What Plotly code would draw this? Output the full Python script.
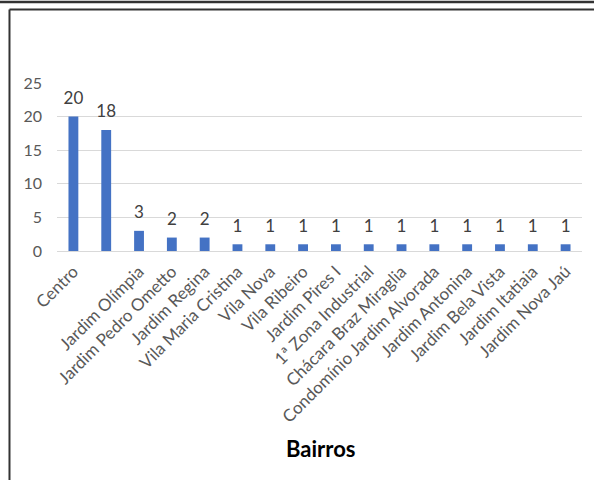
"""Bar chart: occurrences per neighbourhood (Bairros)."""

import plotly.graph_objects as go

# The second bar has no category label in the source chart
categorias = [
    "Centro",
    "",
    "Jardim Olímpia",
    "Jardim Pedro Ometto",
    "Jardim Regina",
    "Vila Maria Cristina",
    "Vila Nova",
    "Vila Ribeiro",
    "Jardim Pires I",
    "1ª Zona Industrial",
    "Chácara Braz Miraglia",
    "Condomínio Jardim Alvorada",
    "Jardim Antonina",
    "Jardim Bela Vista",
    "Jardim Itatiaia",
    "Jardim Nova Jaú",
]
valores = [20, 18, 3, 2, 2, 1, 1, 1, 1, 1, 1, 1, 1, 1, 1, 1]
y_ticks = [0, 5, 10, 15, 20, 25]
eixo_x_titulo = "Bairros"

FONT = "Lato, Carlito, 'Open Sans', sans-serif"
BAR_COLOR = "#4472C4"
GRID_COLOR = "#D9D9D9"
TEXT_GRAY = "#595959"
FRAME_COLOR = "#333333"

posicoes = list(range(len(valores)))

fig = go.Figure()

fig.add_trace(
    go.Bar(
        x=posicoes,
        y=valores,
        marker_color=BAR_COLOR,
        marker_line_width=0,
        width=0.3,
        customdata=categorias,
        hovertemplate="<b>%{customdata}</b><br>%{y}<extra></extra>",
    )
)

# Data labels: transparent markers push the text a bit above each bar
fig.add_trace(
    go.Scatter(
        x=posicoes,
        y=valores,
        mode="markers+text",
        marker={"size": 12, "color": "rgba(0,0,0,0)"},
        text=[str(v) for v in valores],
        textposition="top center",
        textfont={"size": 17, "color": "#404040", "family": FONT},
        cliponaxis=False,
        hoverinfo="skip",
    )
)

# Frame lines around the chart (as in the source image)
frame = {"xref": "paper", "yref": "paper", "type": "line"}
fig.add_shape(x0=-0.2, x1=1.1, y0=1.482, y1=1.482,
              line={"color": FRAME_COLOR, "width": 2.5}, **frame)
fig.add_shape(x0=-0.0905, x1=1.1, y0=1.4375, y1=1.4375,
              line={"color": FRAME_COLOR, "width": 2}, **frame)
fig.add_shape(x0=-0.0905, x1=-0.0905, y0=1.4375, y1=-1.5,
              line={"color": FRAME_COLOR, "width": 2}, **frame)

fig.add_annotation(
    x=0.501,
    y=-1.173,
    xref="paper",
    yref="paper",
    yanchor="middle",
    text=f"<b>{eixo_x_titulo}</b>",
    showarrow=False,
    font={"size": 22, "color": "#000000", "family": FONT},
)

fig.update_layout(
    width=594,
    height=480,
    margin={"l": 57, "r": 12, "t": 83, "b": 229},
    paper_bgcolor="white",
    plot_bgcolor="white",
    showlegend=False,
    font={"family": FONT, "color": TEXT_GRAY},
    xaxis={
        "tickmode": "array",
        "tickvals": posicoes,
        "ticktext": categorias,
        "tickangle": -45,
        "tickfont": {"size": 17, "color": TEXT_GRAY},
        "ticks": "outside",
        "ticklen": 3,
        "tickcolor": "rgba(0,0,0,0)",
        "range": [-0.5, len(valores) - 0.5],
        "showgrid": False,
        "showline": True,
        "linecolor": GRID_COLOR,
        "linewidth": 1,
        "zeroline": False,
    },
    yaxis={
        "range": [0, 25],
        "tickvals": y_ticks,
        "tickfont": {"size": 16, "color": TEXT_GRAY},
        "gridcolor": GRID_COLOR,
        "gridwidth": 1,
        "zeroline": False,
        "showline": False,
        "ticklabelstandoff": 14,
    },
)

fig.write_html(
    "out.html",
    config={"displayModeBar": False},
    post_script="document.body.style.margin = '0px';",
)
